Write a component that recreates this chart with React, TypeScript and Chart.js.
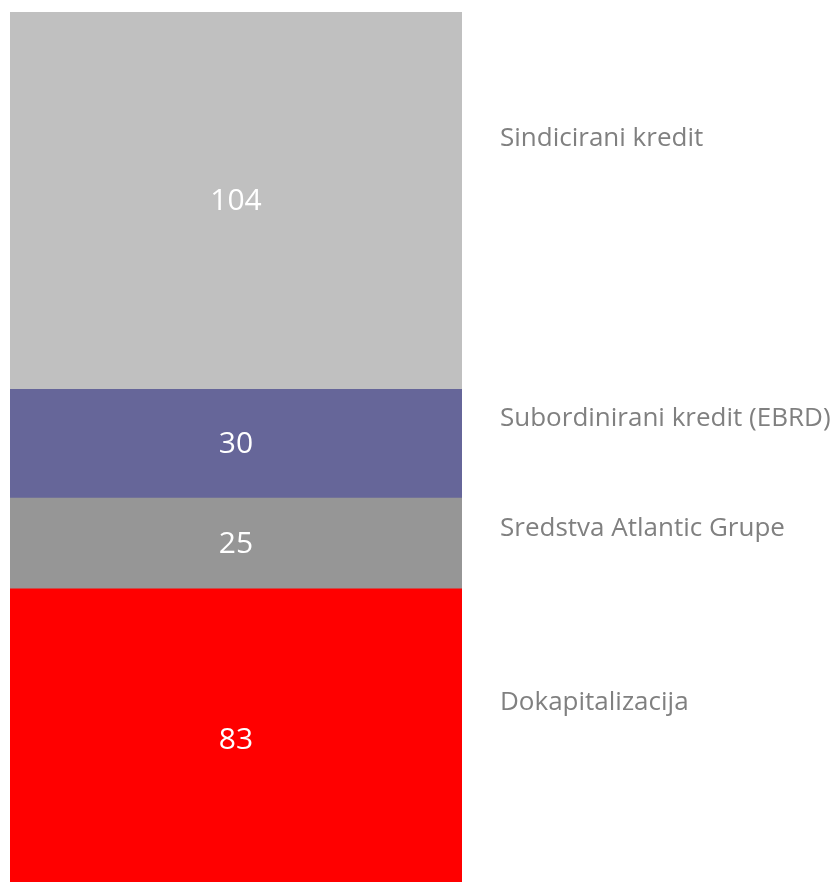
import React, { useEffect, useRef } from "react";
import { Chart, registerables } from "chart.js";

Chart.register(...registerables);

const categories = ["Izvori financiranja"];
const seriesNames = [
  "Dokapitalizacija",
  "Sredstva Atlantic Grupe",
  "Subordinirani kredit (EBRD)",
  "Sindicirani kredit",
];
const seriesValues = [83, 25, 30, 104];
const seriesColors = ["#ff0000", "#969696", "#666699", "#c0c0c0"];

// vertical anchor of each series name inside its segment (fraction from segment top)
const nameAnchor = [0.373, 0.32, 0.26, 0.333];

const labelPlugin = {
  id: "segmentLabels",
  afterDatasetsDraw(chart: any) {
    const ctx = chart.ctx;
    const area = chart.chartArea;
    ctx.save();
    chart.data.datasets.forEach((ds: any, i: number) => {
      const meta = chart.getDatasetMeta(i);
      const el: any = meta.data[0];
      if (!el) return;
      const top = Math.min(el.y, el.base);
      const bottom = Math.max(el.y, el.base);
      const cy = (top + bottom) / 2;
      ctx.fillStyle = "#ffffff";
      ctx.font = '30px "Open Sans"';
      ctx.textAlign = "center";
      ctx.textBaseline = "middle";
      ctx.fillText(String(ds.data[0]), el.x, cy + 1);
      ctx.fillStyle = "#808080";
      ctx.font = '26px "Open Sans"';
      ctx.textAlign = "left";
      ctx.fillText(ds.label, area.right + 38, top + nameAnchor[i] * (bottom - top) + 1);
    });
    ctx.restore();
  },
};

export default function App() {
  const ref = useRef<HTMLCanvasElement | null>(null);
  useEffect(() => {
    if (!ref.current) return;
    const total = seriesValues.reduce((a, b) => a + b, 0);
    const chart = new Chart(ref.current, {
      type: "bar",
      data: {
        labels: categories,
        datasets: seriesNames.map((name, i) => ({
          label: name,
          data: [seriesValues[i]],
          backgroundColor: seriesColors[i],
          borderWidth: 0,
          barPercentage: 1,
          categoryPercentage: 1,
        })),
      },
      options: {
        animation: false,
        responsive: false,
        maintainAspectRatio: false,
        layout: { padding: { left: 10, right: 378, top: 12, bottom: 0 } },
        plugins: {
          legend: { display: false },
          tooltip: { enabled: false },
          title: { display: false },
        },
        scales: {
          x: { stacked: true, display: false },
          y: { stacked: true, display: false, min: 0, max: total },
        },
      },
      plugins: [labelPlugin],
    });
    return () => chart.destroy();
  }, []);
  return (
    <div
      style={{
        position: "fixed",
        top: 0,
        left: 0,
        width: 840,
        height: 882,
        overflow: "hidden",
        background: "#ffffff",
      }}
    >
      <canvas ref={ref} width={840} height={890} style={{ display: "block", width: 840, height: 890 }} />
    </div>
  );
}
